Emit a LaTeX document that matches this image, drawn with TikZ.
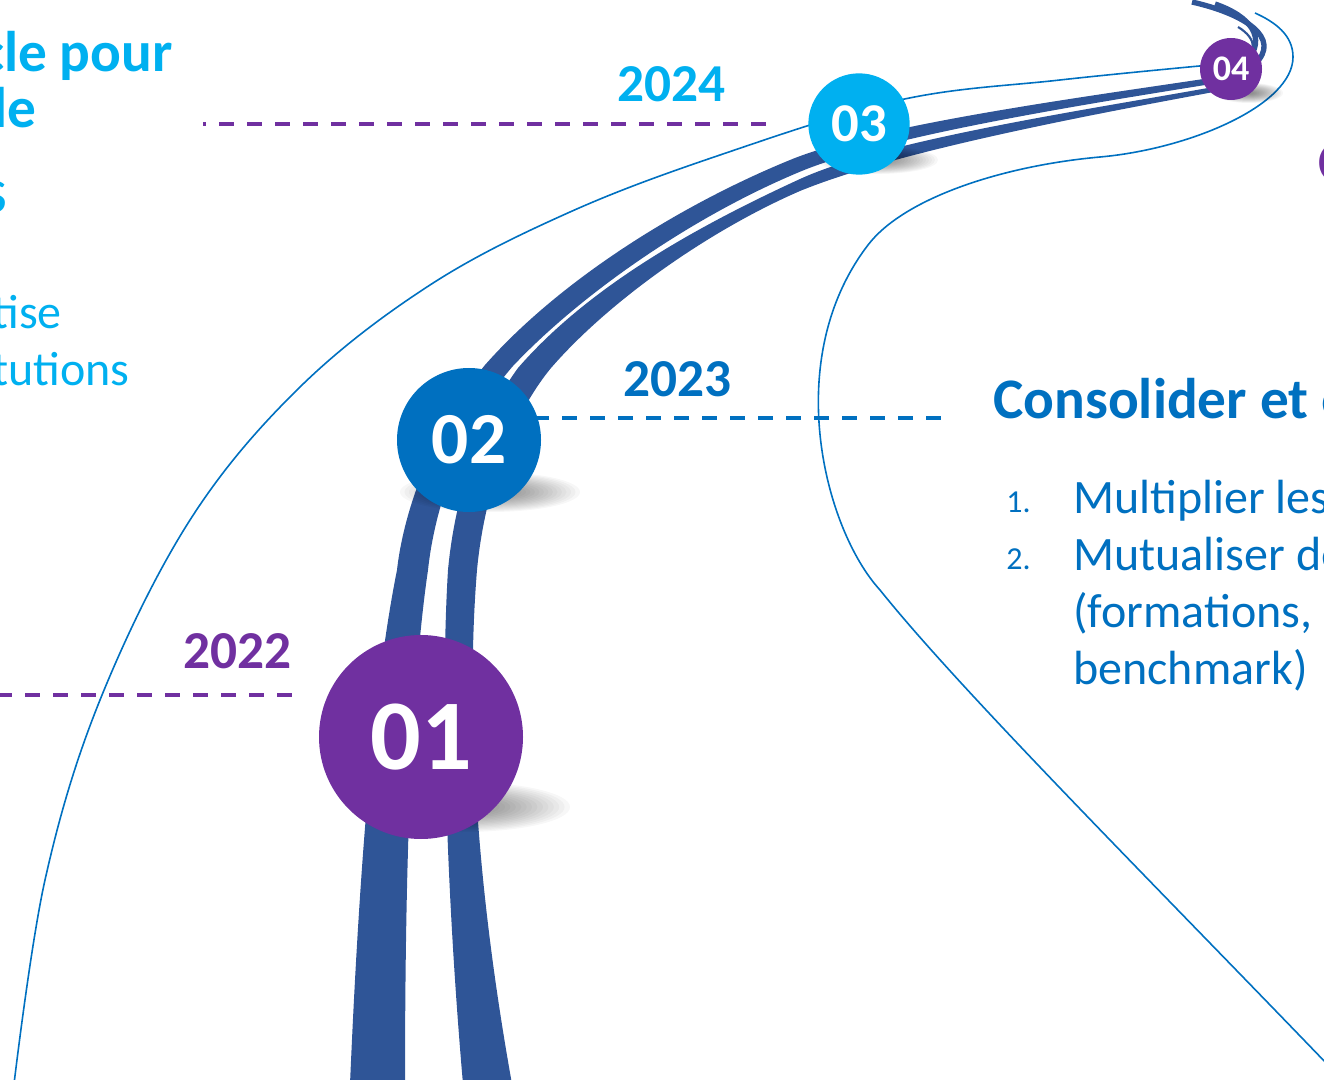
\documentclass[tikz,border=0pt]{standalone}
\usepackage{fontspec}
\setmainfont{Carlito}
\usepackage{xcolor}

\definecolor{roadblue}{HTML}{2F5597}
\definecolor{skyblue}{HTML}{00B0F0}
\definecolor{midblue}{HTML}{0070C0}
\definecolor{stagepurple}{HTML}{7030A0}

\tikzset{
  milestone/.style={circle, fill=#1, text=white, inner sep=0pt},
  yearlabel/.style={text=#1, inner sep=0pt, font=\bfseries\fontsize{40}{40}\selectfont},
  yearline/.style={draw=#1, line width=3pt, dash pattern=on 11pt off 10pt},
  roadedge/.style={draw=midblue, line width=1.2pt},
  heading/.style={text=#1, inner sep=0pt, font=\bfseries\fontsize{43}{43}\selectfont},
  item/.style={text=#1, inner sep=0pt, font=\fontsize{36}{36}\selectfont},
  itemnum/.style={text=midblue, inner sep=0pt, font=\fontsize{24}{24}\selectfont}
}

\begin{document}
\begin{tikzpicture}[x=0.75pt, y=-0.75pt]
  \useasboundingbox (0,0) rectangle (1324,1080);
  \clip (0,0) rectangle (1324,1080);

  % road stripes
  \fill[roadblue] (350,1084) .. controls (360,850) and (375,680) .. (397,570)
    .. controls (405,500) and (440,420) .. (485,365)
    .. controls (560,280) and (680,205) .. (790,160)
    .. controls (880,123) and (1100,95) .. (1230,75)
    -- (1230,81) .. controls (1100,102) and (885,135) .. (797,173)
    .. controls (690,218) and (580,295) .. (513,366)
    .. controls (470,415) and (436,495) .. (428,570)
    .. controls (412,680) and (405,850) .. (405,1084) -- cycle;
  \fill[roadblue] (463,1084) .. controls (447,900) and (440,700) .. (448,570)
    .. controls (455,495) and (480,420) .. (518,368)
    .. controls (590,285) and (700,225) .. (800,179)
    .. controls (890,138) and (1100,108) .. (1230,84)
    -- (1230,89) .. controls (1100,113) and (900,150) .. (800,191)
    .. controls (710,230) and (610,300) .. (551,368)
    .. controls (510,418) and (484,495) .. (477,570)
    .. controls (468,680) and (470,850) .. (512,1084) -- cycle;

  % road loop behind 04
  \draw[roadblue, line width=4pt] (1192,2) .. controls (1245,14) and (1282,38) .. (1255,64);
  \draw[roadblue, line width=4pt] (1215,4) .. controls (1250,16) and (1268,38) .. (1246,62);
  \draw[roadblue, line width=1.6pt] (1238,27) .. controls (1248,33) and (1253,40) .. (1253,47);

  % road borders
  \draw[roadedge] plot[smooth, tension=0.6] coordinates {(14,1084) (45,880) (100,700) (190,520) (300,387) (430,285) (570,212) (720,155) (900,100) (1060,80) (1210,65)};
  \draw[roadedge] (1328,1065) .. controls (1150,880) and (960,690) .. (880,590)
    .. controls (825,530) and (780,360) .. (868,245)
    .. controls (903,199) and (1000,166) .. (1100,157)
    .. controls (1190,149) and (1293,105) .. (1293,57)
    .. controls (1293,35) and (1275,22) .. (1255,13);

  % year lines
  \coordinate (d22a) at (-3,695);
  \coordinate (d22b) at (292,695);
  \coordinate (d23a) at (534,418);
  \coordinate (d23b) at (941,418);
  \coordinate (d24a) at (203,124);
  \coordinate (d24b) at (766,124);
  \draw[yearline=stagepurple] (d22a) -- (d22b);
  \draw[yearline=midblue] (d23a) -- (d23b);
  \draw[yearline=stagepurple, dash phase=9pt] (d24a) -- (d24b);

  \node[yearlabel=stagepurple, anchor=base west] (y2022) at (183,668) {2022};
  \node[yearlabel=midblue, anchor=base west] (y2023) at (623,397) {2023};
  \node[yearlabel=skyblue, anchor=base west] (y2024) at (617,102) {2024};

  % shadows
  \foreach \cx/\cy/\rx/\ry in {462/807/108/25, 490/492/90/20, 878/160/60/14, 1249/93/34/10}
    \foreach \k in {0,...,17}
      \fill[black, opacity=0.03] (\cx,\cy) ellipse [x radius={\rx*(1-0.05*\k)}, y radius={\ry*(1-0.05*\k)}];

  % milestones
  \node[milestone=stagepurple, minimum size=153pt, font=\bfseries\fontsize{75}{75}\selectfont] (m1) at (421,737) {01};
  \node[milestone=midblue, minimum size=108pt, font=\bfseries\fontsize{55}{55}\selectfont] (m2) at (469,440) {02};
  \node[milestone=skyblue, minimum size=76pt, font=\bfseries\fontsize{41}{41}\selectfont] (m3) at (859,124) {03};
  \node[milestone=stagepurple, minimum size=46.5pt, font=\bfseries\fontsize{27}{27}\selectfont] (m4) at (1231,69) {04};

  % left column
  \node[heading=skyblue, anchor=base east] (t1) at (173,72) {cle pour};
  \node[heading=skyblue, anchor=base east] (t2) at (37,128) {le};
  \node[text=skyblue, inner sep=0pt, font=\fontsize{48}{48}\selectfont, anchor=base east] (t3) at (8,213) {s};
  \node[item=skyblue, anchor=base east] (t4) at (62,329) {tise};
  \node[item=skyblue, anchor=base east] (t5) at (130,386) {tutions};

  % right column
  \node[heading=midblue, anchor=base west] (h2) at (993,418) {Consolider et e};
  \node[itemnum, anchor=base west] (n1) at (1006,512) {1.};
  \node[itemnum, anchor=base west] (n2) at (1006,569) {2.};
  \node[item=midblue, anchor=base west] (i1) at (1073,513) {Multiplier les};
  \node[item=midblue, anchor=base west] (i2) at (1073,570) {Mutualiser de};
  \node[item=midblue, anchor=base west] (i3) at (1073,627) {(formations,};
  \node[item=midblue, anchor=base west] (i4) at (1073,684) {benchmark)};
  \node[heading=stagepurple, anchor=base west] (h4) at (1318,182) {C};
\end{tikzpicture}
\end{document}
